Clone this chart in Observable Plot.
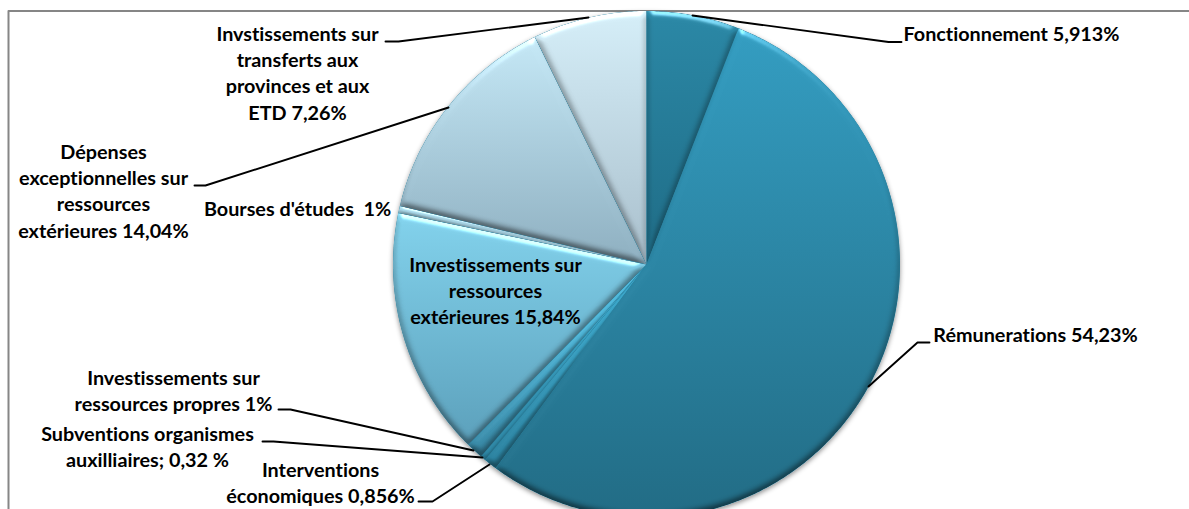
<!DOCTYPE html>
<html>
<head>
<meta charset="utf-8">
<script src="https://cdn.jsdelivr.net/npm/d3@7"></script>
<script src="https://cdn.jsdelivr.net/npm/@observablehq/plot@0.6"></script>
<style>html,body{margin:0;padding:0;background:#fff;overflow:hidden}</style>
</head>
<body>
<div id="chart"></div>
<script>
const names = ["Fonctionnement","Rémunerations","Interventions économiques","Subventions organismes auxilliaires","Investissements sur ressources propres","Investissements sur ressources extérieures","Bourses d'études","Dépenses exceptionnelles sur ressources extérieures","Invstissements sur transferts aux provinces et aux ETD"];
// sizes (the "1%" labels are rounded up in the source chart)
const shares = [5.913,54.23,0.856,0.32,1.1,15.84,0.45,14.04,7.26];
const labels = ["Fonctionnement 5,913%","Rémunerations 54,23%","Interventions\néconomiques 0,856%","Subventions organismes\nauxilliaires; 0,32 %","Investissements sur\nressources propres 1%","Investissements sur\nressources\nextérieures 15,84%","Bourses d'études  1%","Dépenses\nexceptionnelles sur\nressources\nextérieures 14,04%","Invstissements sur\ntransferts aux\nprovinces et aux\nETD 7,26%"];

// styling and layout, kept apart from the values
const gradTop = ["#2b88a6","#349dc1","#3aa5c8","#3aa5c8","#4fb9dc","#84d4ee","#a9d8e8","#c4e7f5","#d5eef8"];
const gradBottom = ["#1f6c86","#226c85","#2a7f9c","#2a7f9c","#35819d","#5b9fba","#8fb2c3","#8eafc0","#a9bfcc"];
const gradY = [[12,264],[30,518],[300,470],[300,470],[300,470],[205,450],[205,264],[40,264],[12,264]];
const labelX = [1011,1035,320,147,173,495,297,103,297];
const labelY = [32,333,481,445.5,389,289,207,189.5,71.5];
const leaders = [
  [[692,15],[888,41.5],[901,41.5]],
  [[868,386],[917,342],[929,342]],
  [[489,464],[432,501],[418,501]],
  [[482,457],[273,441],[262,441]],
  [[473,450],[290,409],[278,409]],
  [[448,107],[205,185],[194,185]],
  [[588,17],[398,41],[385,41]]
];
const cx = 646, cy = 264, radius = 253.5;

const arcs = d3.pie().sort(null)(shares);
const slicePoints = a => {
  const n = Math.max(2, Math.ceil((a.endAngle - a.startAngle) / 0.01));
  const pts = [[cx, cy]];
  for (let i = 0; i <= n; i++) {
    const t = a.startAngle + (a.endAngle - a.startAngle) * i / n;
    pts.push([cx + radius * Math.sin(t), cy - radius * Math.cos(t)]);
  }
  return pts;
};

const defs = () => {
  const g = document.createElementNS("http://www.w3.org/2000/svg", "g");
  const grads = shares.map((_, i) => `<linearGradient id="g${i}" gradientUnits="userSpaceOnUse" x1="0" x2="0" y1="${gradY[i][0]}" y2="${gradY[i][1]}"><stop offset="0" stop-color="${gradTop[i]}"/><stop offset="1" stop-color="${gradBottom[i]}"/></linearGradient>`).join("");
  g.innerHTML = `<defs>${grads}
  <filter id="bevel" x="-15%" y="-15%" width="130%" height="130%" color-interpolation-filters="sRGB">
    <feGaussianBlur in="SourceAlpha" stdDeviation="3.5" result="b"/>
    <feDiffuseLighting in="b" surfaceScale="2.8" diffuseConstant="1.155" lighting-color="#fff" result="d"><feDistantLight azimuth="270" elevation="60"/></feDiffuseLighting>
    <feComposite in="SourceGraphic" in2="d" operator="arithmetic" k1="1" k2="0" k3="0" k4="0" result="shaded"/>
    <feSpecularLighting in="b" surfaceScale="2.8" specularConstant="0.45" specularExponent="40" lighting-color="#fff" result="s"><feDistantLight azimuth="270" elevation="30"/></feSpecularLighting>
    <feComposite in="s" in2="SourceAlpha" operator="in" result="sc"/>
    <feComposite in="shaded" in2="sc" operator="arithmetic" k1="0" k2="1" k3="1" k4="0" result="lit"/>
    <feComposite in="lit" in2="SourceAlpha" operator="in"/>
  </filter>
  <filter id="shadow" x="-10%" y="-10%" width="120%" height="120%">
    <feDropShadow dx="0" dy="2" stdDeviation="2.5" flood-color="#000" flood-opacity="0.45"/>
  </filter></defs>`;
  return g;
};

const wholeDisc = arcs.flatMap(a => slicePoints(a).slice(1));

const plot = Plot.plot({
  width: 1189, height: 509, margin: 0,
  x: {domain: [0, 1189], range: [0, 1189], axis: null},
  y: {domain: [0, 509], range: [0, 509], axis: null},
  style: {background: "#fff", fontFamily: "Lato, sans-serif", fontVariantLigatures: "none"},
  marks: [
    defs,
    Plot.line([[8,509],[8,10.5],[1189,10.5]], {x: d => d[0], y: d => d[1], stroke: "#868686", strokeWidth: 2}),
    Plot.line(wholeDisc, {x: d => d[0], y: d => d[1], curve: "linear-closed", stroke: "none", fill: "#2a7f9c", imageFilter: "url(#shadow)"}),
    ...arcs.map((a, i) => Plot.line(slicePoints(a), {x: d => d[0], y: d => d[1], curve: "linear-closed", stroke: "none", fill: `url(#g${i})`, imageFilter: "url(#bevel)", title: () => names[i]})),
    ...leaders.map(l => Plot.line(l, {x: d => d[0], y: d => d[1], stroke: "#000", strokeWidth: 1.9})),
    Plot.text(labels, {x: (_, i) => labelX[i], y: (_, i) => labelY[i], text: d => d, textAnchor: "middle", lineHeight: 1.32, fontSize: 19.8, fontWeight: 700, fill: "#000"})
  ]
});
document.getElementById("chart").appendChild(plot);
</script>
</body>
</html>
